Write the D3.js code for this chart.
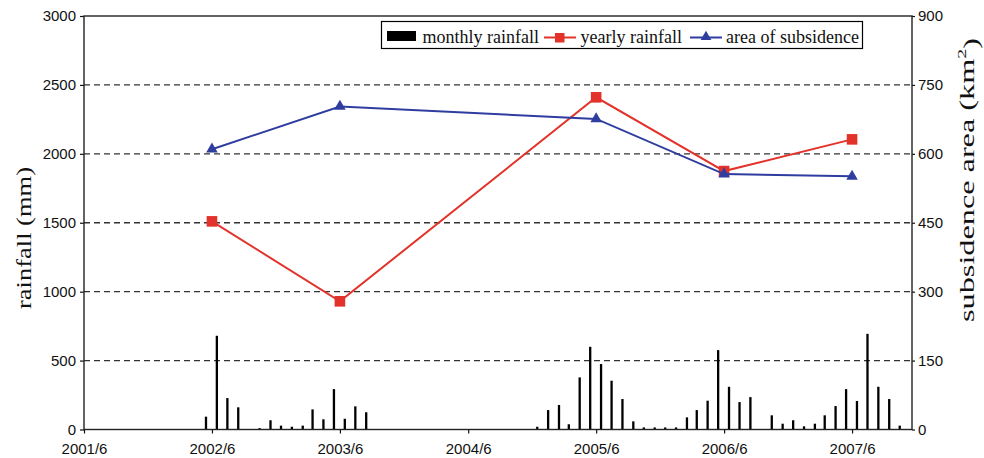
<!DOCTYPE html>
<html>
<head>
<meta charset="utf-8">
<script src="https://cdn.jsdelivr.net/npm/d3@7"></script>
<style>
  body { margin: 0; background: #fff; }
  svg { display: block; }
</style>
</head>
<body>
<svg id="chart" width="984" height="458"></svg>
<script>
// Monthly rainfall (mm)
const months = [
  "2002/5","2002/6","2002/7","2002/8","2002/10","2002/11","2002/12",
  "2003/1","2003/2","2003/3","2003/4","2003/5","2003/6","2003/7","2003/8",
  "2004/12","2005/1","2005/2","2005/3","2005/4","2005/5","2005/6","2005/7",
  "2005/8","2005/9","2005/10","2005/11","2005/12","2006/1","2006/2","2006/3",
  "2006/4","2006/5","2006/6","2006/7","2006/8","2006/10","2006/11","2006/12",
  "2007/1","2007/2","2007/3","2007/4","2007/5","2007/6","2007/7","2007/8",
  "2007/9","2007/10"
];
const monthlyRain = [
  93, 680, 228, 161, 10, 67, 28,
  20, 28, 146, 74, 293, 78, 168, 125,
  20, 141, 178, 38, 378, 600, 475, 354,
  221, 59, 15, 15, 15, 15, 88, 141,
  209, 576, 310, 199, 235, 103, 42, 67,
  23, 42, 103, 170, 293, 207, 694, 310,
  221, 28
];

// Yearly rainfall (mm) and subsidence area (km²)
const years = ["2002/6", "2003/6", "2005/6", "2006/6", "2007/6"];
const yearlyRain = [1510, 930, 2410, 1875, 2105];
const subsidenceArea = [610, 703, 676, 556, 551];

// Axis ticks
const xTickLabels = ["2001/6","2002/6","2003/6","2004/6","2005/6","2006/6","2007/6"];
const rainTicks = [0, 500, 1000, 1500, 2000, 2500, 3000];
const areaTicks = [0, 150, 300, 450, 600, 750, 900];
const legendLabels = ["monthly rainfall", "yearly rainfall", "area of subsidence"];

const parse = d3.timeParse("%Y/%m");
const fmt = d3.timeFormat("%Y/%-m");

const svg = d3.select("#chart");
const plotL = 84, plotR = 912, plotT = 16, plotB = 429.5;

const x = d3.scaleTime()
  .domain([parse("2001/6"), new Date(2007, 10, 19)])
  .range([plotL, plotR]);
const yRain = d3.scaleLinear().domain([0, 3000]).range([plotB, plotT]);
const yArea = d3.scaleLinear().domain([0, 900]).range([plotB, plotT]);

const RED = "#e2322a", BLUE = "#2f3d9f", INK = "#111";
const sansFont = "'Liberation Sans', Arial, Helvetica, sans-serif";
const serifFont = "'Liberation Serif', 'Times New Roman', serif";

// Dashed grid lines
svg.append("g")
  .selectAll("line")
  .data(rainTicks.filter(v => v > 0 && v < 3000))
  .join("line")
  .attr("x1", plotL).attr("x2", plotR)
  .attr("y1", d => yRain(d)).attr("y2", d => yRain(d))
  .attr("stroke", "#333").attr("stroke-width", 1.3)
  .attr("stroke-dasharray", "6,4");

// Monthly bars
const monthData = months.map((m, i) => ({ date: d3.timeDay.offset(parse(m), 14), v: monthlyRain[i] }));
svg.append("g")
  .selectAll("rect")
  .data(monthData)
  .join("rect")
  .attr("x", d => x(d.date) - 1.15)
  .attr("width", 2.3)
  .attr("y", d => yRain(d.v))
  .attr("height", d => plotB - yRain(d.v))
  .attr("fill", "#000");

// Axes
const axisStyle = g => {
  g.select(".domain").remove();
  g.selectAll(".tick line").attr("stroke", INK).attr("stroke-width", 1.2);
  g.selectAll(".tick text").attr("fill", INK).style("font-family", sansFont).style("font-size", "15px");
};

svg.append("g")
  .attr("transform", `translate(${plotL},0)`)
  .call(d3.axisLeft(yRain).tickValues(rainTicks).tickFormat(d3.format("d")).tickSize(4).tickPadding(4))
  .call(axisStyle);

svg.append("g")
  .attr("transform", `translate(${plotR},0)`)
  .call(d3.axisRight(yArea).tickValues(areaTicks).tickFormat(d3.format("d")).tickSize(3).tickPadding(3))
  .call(axisStyle);

svg.append("g")
  .attr("transform", `translate(0,${plotB})`)
  .call(d3.axisBottom(x).tickValues(xTickLabels.map(parse)).tickFormat(fmt).tickSize(4).tickPadding(9.5))
  .call(axisStyle);

// Plot frame
svg.append("rect")
  .attr("x", plotL).attr("y", plotT)
  .attr("width", plotR - plotL).attr("height", plotB - plotT)
  .attr("fill", "none").attr("stroke", "#222").attr("stroke-width", 1.4);

// Yearly rainfall line
const rainPts = years.map((y, i) => ({ date: parse(y), v: yearlyRain[i] }));
svg.append("path")
  .datum(rainPts)
  .attr("fill", "none").attr("stroke", RED).attr("stroke-width", 2)
  .attr("d", d3.line().x(d => x(d.date)).y(d => yRain(d.v)));
svg.append("g")
  .selectAll("rect")
  .data(rainPts)
  .join("rect")
  .attr("x", d => x(d.date) - 5.3).attr("y", d => yRain(d.v) - 5.3)
  .attr("width", 10.6).attr("height", 10.6)
  .attr("fill", RED);

// Subsidence area line
const areaPts = years.map((y, i) => ({ date: parse(y), v: subsidenceArea[i] }));
svg.append("path")
  .datum(areaPts)
  .attr("fill", "none").attr("stroke", BLUE).attr("stroke-width", 2)
  .attr("d", d3.line().x(d => x(d.date)).y(d => yArea(d.v)));
const tri = d3.symbol(d3.symbolTriangle).size(58);
svg.append("g")
  .selectAll("path")
  .data(areaPts)
  .join("path")
  .attr("transform", d => `translate(${x(d.date)},${yArea(d.v)})`)
  .attr("d", tri)
  .attr("fill", BLUE);

// Axis titles (stretched along their length)
function vTitle(cx, cy, targetLen, build) {
  const t = svg.append("text")
    .style("font-family", serifFont).style("font-size", "21px")
    .attr("fill", INK)
    .attr("text-anchor", "middle")
    .attr("dominant-baseline", "central");
  build(t);
  const w = t.node().getComputedTextLength();
  t.attr("transform", `translate(${cx},${cy}) rotate(-90) scale(${targetLen / w},1)`);
}
vTitle(24, 238, 142, t => t.text("rainfall (mm)"));
vTitle(967, 180, 284, t => {
  t.append("tspan").text("subsidence area (km");
  t.append("tspan").attr("dy", "-0.45em").style("font-size", "13px").text("2");
  t.append("tspan").attr("dy", "0.45em").text(")");
});

// Legend
const lg = svg.append("g");
lg.append("rect")
  .attr("x", 381.5).attr("y", 21.5).attr("width", 481).attr("height", 27)
  .attr("fill", "#fff").attr("stroke", "#000").attr("stroke-width", 1.2);
lg.append("rect").attr("x", 387).attr("y", 31).attr("width", 29).attr("height", 10).attr("fill", "#000");
lg.append("line").attr("x1", 544).attr("x2", 576).attr("y1", 37.5).attr("y2", 37.5)
  .attr("stroke", RED).attr("stroke-width", 2);
lg.append("rect").attr("x", 555).attr("y", 33).attr("width", 9.5).attr("height", 9.5).attr("fill", RED);
lg.append("line").attr("x1", 690).attr("x2", 722).attr("y1", 37.5).attr("y2", 37.5)
  .attr("stroke", BLUE).attr("stroke-width", 2);
lg.append("path").attr("transform", "translate(706,37)").attr("d", d3.symbol(d3.symbolTriangle).size(50)).attr("fill", BLUE);
lg.selectAll("text.lbl")
  .data(legendLabels.map((s, i) => ({ s, x: [422.5, 580.5, 726][i] })))
  .join("text")
  .attr("class", "lbl")
  .attr("x", d => d.x).attr("y", 43)
  .style("font-family", serifFont).style("font-size", "18px")
  .attr("fill", INK)
  .text(d => d.s);
</script>
</body>
</html>
